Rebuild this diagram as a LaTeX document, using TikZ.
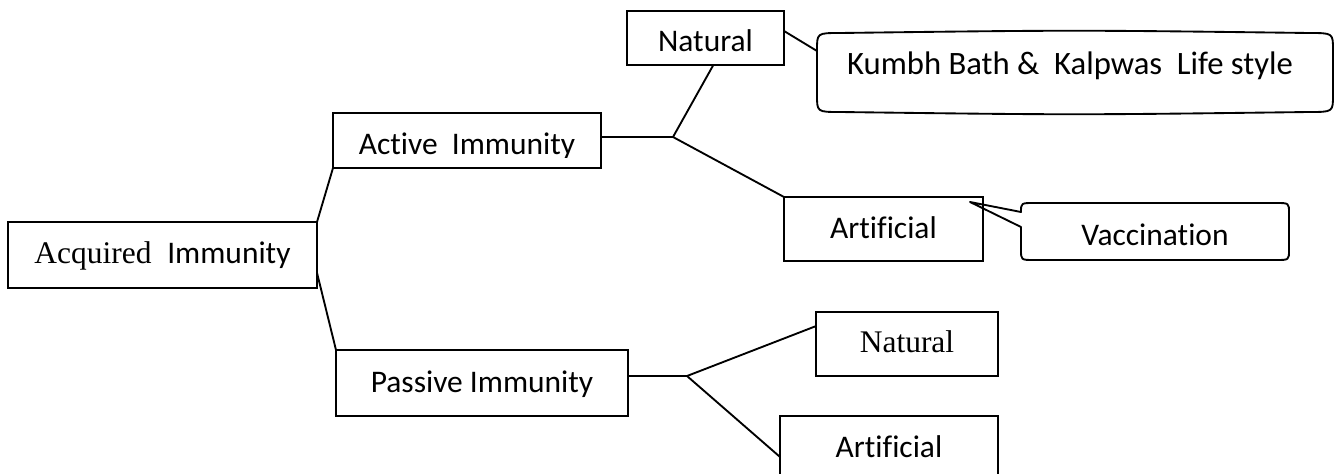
\documentclass[tikz,border=0pt]{standalone}
\usepackage{fontspec}
\setmainfont{Carlito}[Ligatures={NoCommon,NoContextual}, Contextuals=NoAlternate]
\newfontfamily\tnr{Liberation Serif}[Ligatures=NoCommon]
\usetikzlibrary{calc}
\tikzset{
  lw/.style={line width=1.4pt},
  bx/.style={draw, lw, rectangle, inner sep=0pt, outer sep=0pt, text depth=0pt,
             font=\fontsize{23.6}{28}\selectfont},
  lbl/.style={inner sep=0pt, outer sep=0pt, text depth=0pt,
              font=\fontsize{23.6}{28}\selectfont},
  conn/.style={lw},
  callout/.style={lw, line join=round}
}
\begin{document}
\begin{tikzpicture}[x=0.75pt, y=-0.75pt]
\clip (0,0) rectangle (1341,474);
% boxes
\node[bx, minimum width=231.75pt, minimum height=49.5pt, text height=12pt] (acq) at (162.5,255) {{\tnr Acquired\ \ }Immunity};
\node[bx, minimum width=201pt, minimum height=41.25pt, text height=21.75pt] (act) at (467,140.5) {Active\ \ Immunity};
\fill[white] (334.5,158.5) rectangle (599.5,167);
\node[bx, minimum width=219pt, minimum height=49.5pt, text height=13.5pt] (pas) at (482,383) {Passive Immunity};
\node[bx, minimum width=117.75pt, minimum height=40.5pt, text height=21pt] (nattop) at (705.5,38) {Natural};
\node[bx, minimum width=149.25pt, minimum height=48pt, text height=13.5pt] (artmid) at (883.5,229) {Artificial};
\node[bx, minimum width=136.5pt, minimum height=48pt, text height=12pt] (natbot) at (907,344) {\tnr Natural};
\node[bx, minimum width=163.5pt, minimum height=47.25pt, text height=14.25pt] (artbot) at (889,447.5) {Artificial};
% callout texts
\node[lbl, font=\fontsize{24.5}{29}\selectfont, text height=3.75pt] (kumbh) at (1070,72.5) {Kumbh Bath \&\ \ Kalpwas\ \ Life style};
\node[lbl, text height=20.25pt] (vacc) at (1155,231.5) {Vaccination};
% callout outlines
\draw[callout] (817,50) .. controls (817,33) .. (840,33)
  .. controls (1074,30) .. (1309,33) .. controls (1333,33) .. (1333,50)
  -- (1333,95) .. controls (1333,112) .. (1309,112)
  .. controls (1074,115) .. (840,112) .. controls (817,112) .. (817,95) -- cycle;
\coordinate (ktail) at (817,51);
\coordinate (vtip) at ($(artmid.north east)+(-13,5)$);
\draw[callout] (1021,212) .. controls (1021,203) .. (1034,203) -- (1276,203)
  .. controls (1289,203) .. (1289,213) -- (1289,250) .. controls (1289,260) .. (1276,260)
  -- (1034,260) .. controls (1021,260) .. (1021,250) -- (1021,227) -- (vtip) -- cycle;
% forks
\coordinate (f1) at (673,137);
\coordinate (f2) at (687,376);
% connectors
\draw[conn] (acq.north east) -- (act.south west);
\draw[conn] ($(acq.north east)!0.77!(acq.south east)$) -- (pas.north west);
\draw[conn] (act.east |- f1) -- (f1);
\draw[conn] (f1) -- ($(nattop.south west)!0.55!(nattop.south east)$);
\draw[conn] (f1) -- (artmid.north west);
\draw[conn] (pas.east |- f2) -- (f2);
\draw[conn] (f2) -- ($(natbot.north west)!0.22!(natbot.south west)$);
\draw[conn] (f2) -- ($(artbot.north west)!0.65!(artbot.south west)$);
\draw[conn] ($(nattop.north east)!0.37!(nattop.south east)$) -- (ktail);
\end{tikzpicture}
\end{document}
